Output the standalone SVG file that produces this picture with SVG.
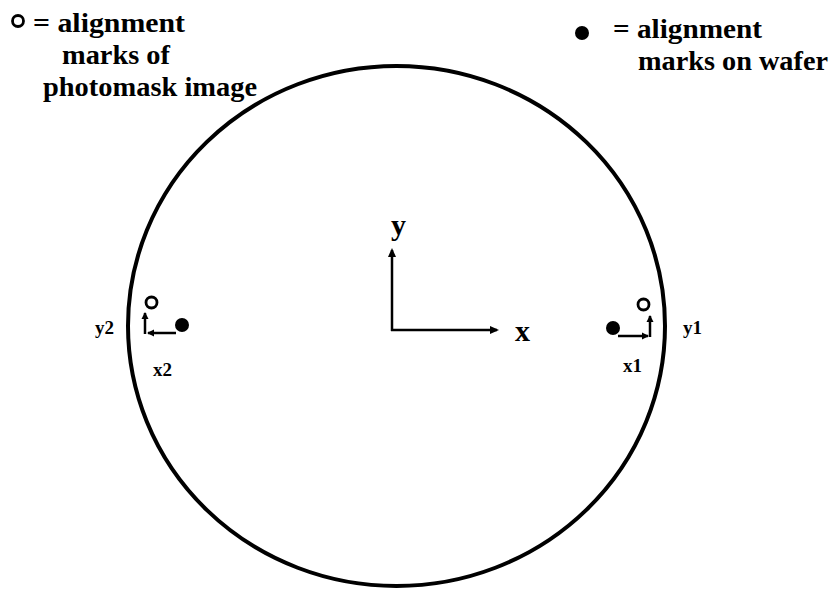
<svg xmlns="http://www.w3.org/2000/svg" width="832" height="594" viewBox="0 0 832 594">
<style>
text { font-family: "Liberation Serif", "Times New Roman", "DejaVu Serif", serif; font-weight: bold; fill: #000; }
.leg { font-size: 27px; }
.ax { font-size: 30px; }
.sm { font-size: 19px; }
.ln { stroke: #000; stroke-width: 2.5; fill: none; }
.open { fill: #fff; stroke: #000; stroke-width: 2.8; }
.dot { fill: #000; }
</style>
<defs>
<marker id="ah" markerWidth="10" markerHeight="10" refX="7" refY="5" orient="auto" markerUnits="userSpaceOnUse">
<path d="M0,1 L9,5 L0,9 Z" fill="#000"/>
</marker>
<marker id="ahs" markerWidth="8" markerHeight="8" refX="6" refY="4" orient="auto" markerUnits="userSpaceOnUse">
<path d="M0,0.5 L7,4 L0,7.5 Z" fill="#000"/>
</marker>
</defs>
<rect width="832" height="594" fill="#fff"/>
<g id="wafer">
<ellipse cx="396.5" cy="326" rx="268.5" ry="260" fill="none" stroke="#000" stroke-width="4"/>
</g>
<g id="legend-mask">
<circle class="open" cx="18" cy="21" r="5.5"/>
<text class="leg" x="33" y="32" textLength="152" lengthAdjust="spacingAndGlyphs">= alignment</text>
<text class="leg" x="62" y="64" textLength="108" lengthAdjust="spacingAndGlyphs">marks of</text>
<text class="leg" x="43" y="96" textLength="214" lengthAdjust="spacingAndGlyphs">photomask image</text>
</g>
<g id="legend-wafer">
<circle class="dot" cx="582" cy="33" r="7"/>
<text class="leg" x="613" y="38" textLength="149" lengthAdjust="spacingAndGlyphs">= alignment</text>
<text class="leg" x="638" y="70" textLength="190" lengthAdjust="spacingAndGlyphs">marks on wafer</text>
</g>
<g id="connectors">
<line class="ln" x1="392" y1="331" x2="392" y2="250" marker-end="url(#ah)"/>
<line class="ln" x1="391" y1="330" x2="497" y2="330" marker-end="url(#ah)"/>
<line class="ln" x1="176" y1="333" x2="148" y2="333" marker-end="url(#ahs)"/>
<line class="ln" x1="145" y1="334" x2="145" y2="313" marker-end="url(#ahs)"/>
<line class="ln" x1="618" y1="336" x2="648" y2="336" marker-end="url(#ahs)"/>
<line class="ln" x1="650" y1="337" x2="650" y2="316" marker-end="url(#ahs)"/>
</g>
<g id="axes-labels">
<text class="ax" x="391" y="235">y</text>
<text class="ax" x="515" y="341">x</text>
</g>
<g id="mark-left">
<circle class="open" cx="151.5" cy="302.5" r="5.5"/>
<circle class="dot" cx="182" cy="325" r="7"/>
<text class="sm" x="95" y="334">y2</text>
<text class="sm" x="153" y="376">x2</text>
</g>
<g id="mark-right">
<circle class="dot" cx="613" cy="328" r="7"/>
<circle class="open" cx="643.5" cy="304.5" r="5.5"/>
<text class="sm" x="683" y="334">y1</text>
<text class="sm" x="623" y="372">x1</text>
</g>
</svg>
